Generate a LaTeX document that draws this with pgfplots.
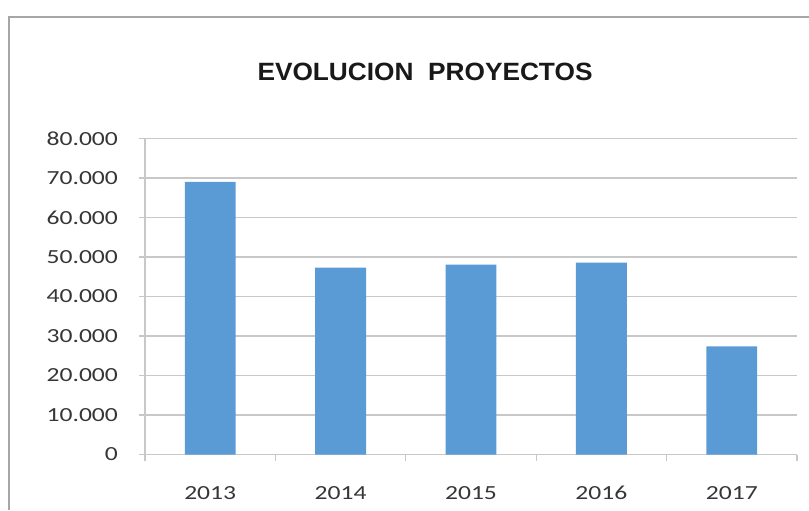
\documentclass[border=0pt]{standalone}
\usepackage{fontspec}
\setmainfont{Carlito}[FakeStretch=1.28]
\newfontfamily\titlefont{Liberation Sans}[FakeStretch=1.05]
\usepackage{pgfplots}
\pgfplotsset{compat=1.18}
\definecolor{barblue}{HTML}{5B9BD5}
\definecolor{gridgray}{HTML}{C8C8C8}
\definecolor{labelgray}{HTML}{363636}

\begin{document}
\begin{tikzpicture}
\useasboundingbox (0,0) rectangle (404.5pt,255pt);
% chart frame (only left and top edges are visible in the crop)
\draw[color=black!35, line width=1pt] (4.5pt,0) -- (4.5pt,246.5pt) -- (404.5pt,246.5pt);
\node[font=\titlefont\bfseries\fontsize{12.5}{15}\selectfont, text=black!90] at (212.5pt,219pt) {EVOLUCION\ \ PROYECTOS};
\begin{axis}[
  at={(72.5pt,27.75pt)}, anchor=south west,
  scale only axis, width=326pt, height=158pt,
  ybar, bar width=0.39,
  xmin=-0.5, xmax=4.5, ymin=0, ymax=80000,
  xtick={0,...,4}, xticklabels={2013,2014,2015,2016,2017},
  minor xtick={-0.5,0.5,...,4.5},
  ytick={0,10000,...,80000},
  scaled y ticks=false,
  /pgf/number format/.cd, 1000 sep={.}, assume math mode=true, /pgfplots/.cd,
  ymajorgrids, major grid style={gridgray, line width=0.6pt},
  axis x line*=bottom, axis y line*=left,
  axis line style={gridgray, line width=0.6pt, -},
  tick align=outside,
  major tick length=3pt, minor tick length=3pt,
  major x tick style={draw=none},
  minor x tick style={gridgray, line width=0.6pt},
  major y tick style={gridgray, line width=0.6pt},
  tick label style={font=\fontsize{10}{12}\selectfont, text=labelgray},
  yticklabel style={xshift=-7pt},
  xticklabel style={yshift=-9pt, text height=7pt, text depth=0pt},
]
\addplot[fill=barblue, draw=none] coordinates {
  (0,69000) (1,47300) (2,48100) (3,48600) (4,27400)
};
\end{axis}
\end{tikzpicture}
\end{document}
